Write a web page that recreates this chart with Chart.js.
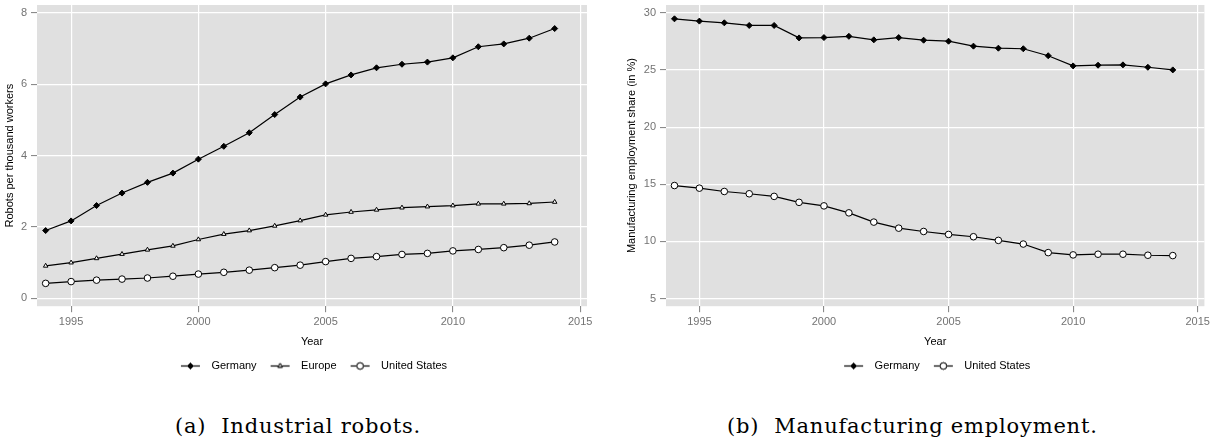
<!DOCTYPE html>
<html lang="en">
<head>
<meta charset="UTF-8">
<title>Industrial robots and manufacturing employment</title>
<script src="https://cdn.jsdelivr.net/npm/chart.js"></script>
<style>
  body {
    margin: 0;
    background: #fff;
    width: 1213px;
    height: 443px;
    position: relative;
    overflow: hidden;
  }
  .panel { position: absolute; top: 0; }
  #left { left: 0; }
  #right { left: 606px; }
  .caption {
    position: absolute;
    top: 416px;
    font-family: "DejaVu Serif", serif;
    font-size: 21px;
    letter-spacing: 0.8px;
    line-height: 1;
    color: #000;
    white-space: nowrap;
  }
  #capA { left: 175px; }
  #capB { left: 727px; }
</style>
</head>
<body>
<div class="panel" id="left"><canvas id="robotsChart" width="606" height="384"></canvas></div>
<div class="panel" id="right"><canvas id="empChart" width="607" height="384"></canvas></div>
<div class="caption" id="capA">(a)&nbsp;&nbsp;Industrial robots.</div>
<div class="caption" id="capB">(b)&nbsp;&nbsp;Manufacturing employment.</div>

<script>
  const years = [1994, 1995, 1996, 1997, 1998, 1999, 2000, 2001, 2002, 2003, 2004,
                 2005, 2006, 2007, 2008, 2009, 2010, 2011, 2012, 2013, 2014];
  const xTicks = [1995, 2000, 2005, 2010, 2015];

  // (a) robots per thousand workers
  const robotsGermany = [1.90, 2.17, 2.60, 2.95, 3.25, 3.51, 3.90, 4.26, 4.64, 5.15, 5.64,
                         6.01, 6.26, 6.46, 6.56, 6.62, 6.74, 7.05, 7.13, 7.29, 7.56];
  const robotsEurope = [0.91, 1.00, 1.12, 1.24, 1.36, 1.47, 1.65, 1.80, 1.90, 2.03, 2.18,
                        2.34, 2.42, 2.48, 2.54, 2.57, 2.60, 2.65, 2.65, 2.66, 2.70];
  const robotsUS = [0.42, 0.47, 0.51, 0.54, 0.57, 0.62, 0.68, 0.73, 0.79, 0.86, 0.93,
                    1.03, 1.12, 1.17, 1.23, 1.26, 1.33, 1.37, 1.42, 1.49, 1.58];
  const robotsTicks = [0, 2, 4, 6, 8];

  // (b) manufacturing employment share (in %)
  const empGermany = [29.48, 29.28, 29.13, 28.90, 28.90, 27.81, 27.84, 27.95, 27.64, 27.84, 27.61,
                      27.52, 27.09, 26.91, 26.86, 26.25, 25.36, 25.42, 25.45, 25.24, 25.01];
  const empUS = [14.89, 14.66, 14.37, 14.17, 13.94, 13.42, 13.11, 12.50, 11.69, 11.16, 10.87,
                 10.61, 10.41, 10.09, 9.77, 9.02, 8.82, 8.88, 8.88, 8.79, 8.76];
  const empTicks = [5, 10, 15, 20, 25, 30];

  const tickGray = '#737373';
  const panelGray = '#e0e0e0';
  const sans = '"Liberation Sans", Arial, sans-serif';

  const markers = {
    germany: { pointStyle: 'rectRot', radius: 3, bg: '#000' },
    europe:  { pointStyle: 'triangle', radius: 2.6, bg: '#fff' },
    us:      { pointStyle: 'circle', radius: 3.3, bg: '#fff' }
  };

  // small legend key: line with the marker in the middle (4px blank on the left as spacing)
  function makeKey(m) {
    const c = document.createElement('canvas');
    c.width = 29; c.height = 11;
    const ctx = c.getContext('2d');
    ctx.strokeStyle = '#000';
    ctx.lineWidth = 1.2;
    ctx.beginPath(); ctx.moveTo(4, 5.5); ctx.lineTo(23, 5.5); ctx.stroke();
    ctx.fillStyle = m.bg;
    ctx.lineWidth = 1;
    Chart.helpers.drawPoint(ctx, { pointStyle: m.pointStyle, radius: m.radius, borderWidth: 1, rotation: 0 }, 13.5, 5.5);
    ctx.fill();
    ctx.stroke();
    return c;
  }

  function series(label, values, m) {
    return {
      label: label,
      data: years.map((y, i) => ({ x: y, y: values[i] })),
      borderColor: '#000',
      borderWidth: 1.2,
      pointStyle: m.pointStyle,
      pointRadius: m.radius,
      pointBackgroundColor: m.bg,
      pointBorderColor: '#000',
      pointBorderWidth: 1,
      tension: 0,
      key: makeKey(m)
    };
  }

  const panelBg = {
    id: 'panelBg',
    beforeDraw(chart) {
      const { ctx, chartArea: a } = chart;
      ctx.save();
      ctx.fillStyle = panelGray;
      ctx.fillRect(a.left, a.top, a.right - a.left, a.bottom - a.top);
      ctx.restore();
    }
  };

  // centre the legend under the panel, not under the whole canvas
  const legendUnderPanel = {
    id: 'legendUnderPanel',
    afterLayout(chart) {
      const a = chart.chartArea;
      chart.legend.left = a.left;
      chart.legend.right = a.right;
    }
  };

  function makeChart(id, datasets, yTicks, yMin, yMax, yTitle, pad, yWidth) {
    return new Chart(document.getElementById(id), {
      type: 'line',
      data: { datasets: datasets },
      plugins: [panelBg, legendUnderPanel],
      options: {
        responsive: false,
        animation: false,
        layout: { padding: pad },
        plugins: {
          tooltip: { enabled: false },
          legend: {
            position: 'bottom',
            labels: {
              usePointStyle: true,
              pointStyleWidth: 29,
              padding: 10,
              color: '#000',
              font: { family: sans, size: 11 },
              generateLabels: chart => chart.data.datasets.map((ds, i) => ({
                text: ds.label,
                pointStyle: ds.key,
                datasetIndex: i,
                hidden: false,
                lineWidth: 0,
                fontColor: '#000'
              }))
            }
          }
        },
        scales: {
          x: {
            type: 'linear',
            min: 1993.66,
            max: 2015.27,
            afterBuildTicks: s => { s.ticks = xTicks.map(v => ({ value: v })); },
            ticks: {
              color: tickGray, padding: 3, maxRotation: 0,
              font: { family: sans, size: 11 },
              callback: v => String(v)
            },
            grid: { color: '#fff', lineWidth: 1.2, tickColor: '#7f7f7f', tickLength: 6, tickWidth: 1 },
            border: { display: false },
            title: {
              display: true, text: 'Year', color: '#000',
              font: { family: sans, size: 11 },
              padding: { top: 4, bottom: 1.9 }
            }
          },
          y: {
            min: yMin,
            max: yMax,
            afterBuildTicks: s => { s.ticks = yTicks.map(v => ({ value: v })); },
            afterFit: s => { s.width = yWidth; s.paddingTop = 0; s.paddingBottom = 0; },
            ticks: {
              color: tickGray, padding: 4,
              font: { family: sans, size: 11 },
              callback: v => String(v)
            },
            grid: { color: '#fff', lineWidth: 1.2, tickColor: '#7f7f7f', tickLength: 6, tickWidth: 1 },
            border: { display: false },
            title: {
              display: true, text: yTitle, color: '#000',
              font: { family: sans, size: 11 },
              padding: { top: 3.4, bottom: 0 }
            }
          }
        }
      }
    });
  }

  makeChart('robotsChart', [
    series('Germany', robotsGermany, markers.germany),
    series('Europe', robotsEurope, markers.europe),
    series('United States', robotsUS, markers.us)
  ], robotsTicks, -0.22, 8.22, 'Robots per thousand workers',
     { left: 0, right: 19, top: 0, bottom: 2.5 }, 37);

  makeChart('empChart', [
    series('Germany', empGermany, markers.germany),
    series('United States', empUS, markers.us)
  ], empTicks, 4.33, 30.69, 'Manufacturing employment share (in %)',
     { left: 16, right: 3, top: 0, bottom: 2.5 }, 44);
</script>
</body>
</html>
